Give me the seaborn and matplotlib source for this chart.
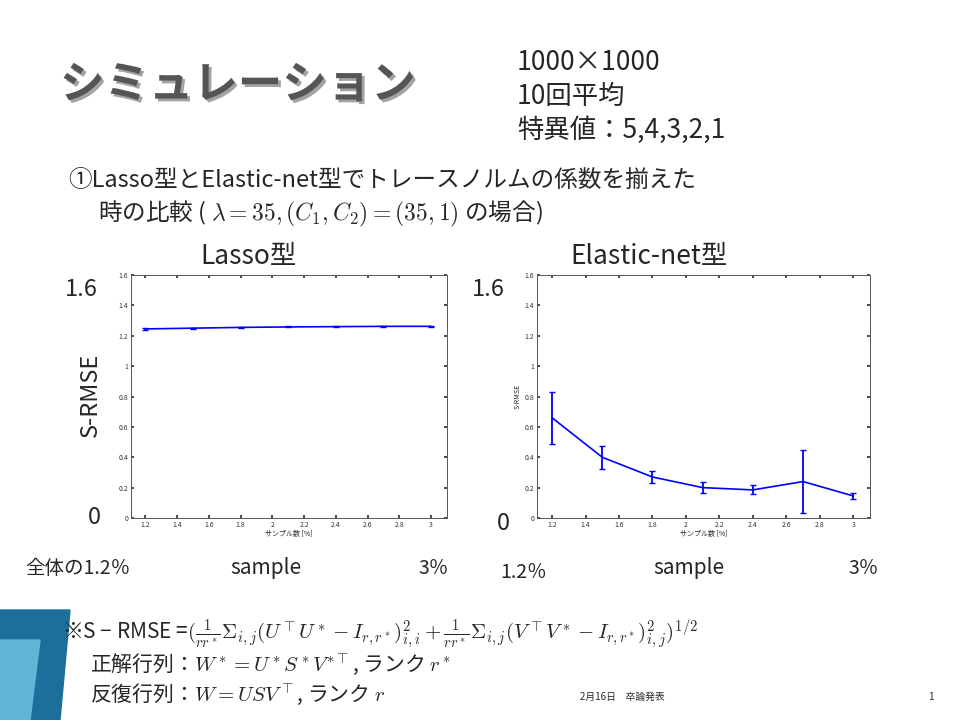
import matplotlib
matplotlib.use("Agg")
import matplotlib.pyplot as plt
import matplotlib.patheffects as pe
import seaborn as sns
import pandas as pd

sample_pct = [1.2, 1.5, 1.8, 2.1, 2.4, 2.7, 3.0]
lasso_rmse = [1.245, 1.250, 1.255, 1.258, 1.260, 1.262, 1.262]
lasso_err = [0.004, 0.003, 0.003, 0.003, 0.003, 0.003, 0.003]
enet_rmse = [0.66, 0.40, 0.27, 0.20, 0.185, 0.24, 0.145]
enet_err = [0.17, 0.075, 0.038, 0.035, 0.03, 0.205, 0.02]
x_ticks = [1.2, 1.4, 1.6, 1.8, 2.0, 2.2, 2.4, 2.6, 2.8, 3.0]
x_ticklabels = ["1.2", "1.4", "1.6", "1.8", "2", "2.2", "2.4", "2.6", "2.8", "3"]
y_ticks = [0, 0.2, 0.4, 0.6, 0.8, 1.0, 1.2, 1.4, 1.6]
y_ticklabels = ["0", "0.2", "0.4", "0.6", "0.8", "1", "1.2", "1.4", "1.6"]

sns.set_theme(style="white")
plt.rcParams['font.family'] = ['Noto Sans CJK JP', 'DejaVu Sans']
plt.rcParams['mathtext.fontset'] = 'cm'

fig = plt.figure(figsize=(9.6, 7.2), dpi=100)
W, H = 960, 720

def fx(x):
    return x / W

def fy(y):
    return 1 - y / H

def small_plot(rect, y, err, show_ylabel):
    ax = fig.add_axes(rect)
    df = pd.DataFrame({"x": sample_pct, "y": y})
    sns.lineplot(data=df, x="x", y="y", ax=ax, color="#0000ff", lw=1.2)
    ax.errorbar(sample_pct, y, yerr=err, fmt="none", ecolor="#0000ff", capsize=2.5, elinewidth=1.3)
    ax.set_xlim(1.11, 3.1)
    ax.set_ylim(0, 1.6)
    ax.set_xticks(x_ticks)
    ax.set_xticklabels(x_ticklabels)
    ax.set_yticks(y_ticks)
    ax.set_yticklabels(y_ticklabels)
    ax.tick_params(labelsize=5, direction="in", length=2, colors="#333333", pad=2,
                   top=True, right=True, bottom=True, left=True)
    ax.set_xlabel("サンプル数 [%]", fontsize=5, labelpad=1)
    ax.set_ylabel("S-RMSE" if show_ylabel else "", fontsize=5, labelpad=2)
    for s in ax.spines.values():
        s.set_color("#555555")
        s.set_linewidth(0.7)
    return ax

small_plot([fx(131), fy(518), fx(447) - fx(131), 243 / H], lasso_rmse, lasso_err, False)
small_plot([fx(537), fy(518), fx(870) - fx(537), 243 / H], enet_rmse, enet_err, True)

def t(x, y, s, size, **kw):
    fig.text(fx(x), fy(y), s, fontsize=size, va="center", ha=kw.pop("ha", "left"), **kw)

t(60, 85, "シミュレーション", 32, weight="bold", color="#555555",
  path_effects=[pe.withSimplePatchShadow(offset=(2, -2), alpha=0.4)])
t(517, 62, "1000×1000", 19)
t(517, 96, "10回平均", 19)
t(517, 130, "特異値：5,4,3,2,1", 19)
t(68, 180, "①Lasso型とElastic-net型でトレースノルムの係数を揃えた", 17)
t(98, 214, r"時の比較 ( $\lambda=35,(C_1,C_2)=(35,1)$ の場合)", 17)
t(200, 256, "Lasso型", 19)
t(570, 256, "Elastic-net型", 19)
t(65, 290, "1.6", 17)
t(88, 518, "0", 17)
t(90, 395, "S-RMSE", 17, rotation=90, ha="center")
t(472, 290, "1.6", 17)
t(497, 523, "0", 17)
t(25, 568, "全体の1.2％", 14)
t(230, 568, "sample", 15)
t(418, 568, "3％", 14)
t(500, 572, "1.2％", 14)
t(653, 568, "sample", 15)
t(848, 568, "3％", 14)
t(62, 634, r"※S − RMSE =$(\frac{1}{rr^*}\Sigma_{i,j}(U^\top U^*-I_{r,r^*})^2_{i,i}"
  r"+\frac{1}{rr^*}\Sigma_{i,j}(V^\top V^*-I_{r,r^*})^2_{i,j})^{1/2}$", 15)
t(90, 664, r"正解行列：$W^*=U^*S^*V^{*\top}$, ランク $r^*$", 15)
t(90, 694, r"反復行列：$W=USV^\top$, ランク $r$", 15)
t(580, 697, "2月16日　卒論発表", 7)
t(928, 697, "1", 7)

# decorative corner band
bg = fig.add_axes([0, 0, 1, 1], zorder=-1)
bg.set_xlim(0, W)
bg.set_ylim(H, 0)
bg.axis("off")
bg.fill([0, 70, 60, 0], [610, 610, 720, 720], color="#1b6f9a")
bg.fill([0, 40, 30, 0], [640, 640, 720, 720], color="#62b5d6")

fig.savefig("out.png", dpi=100)
